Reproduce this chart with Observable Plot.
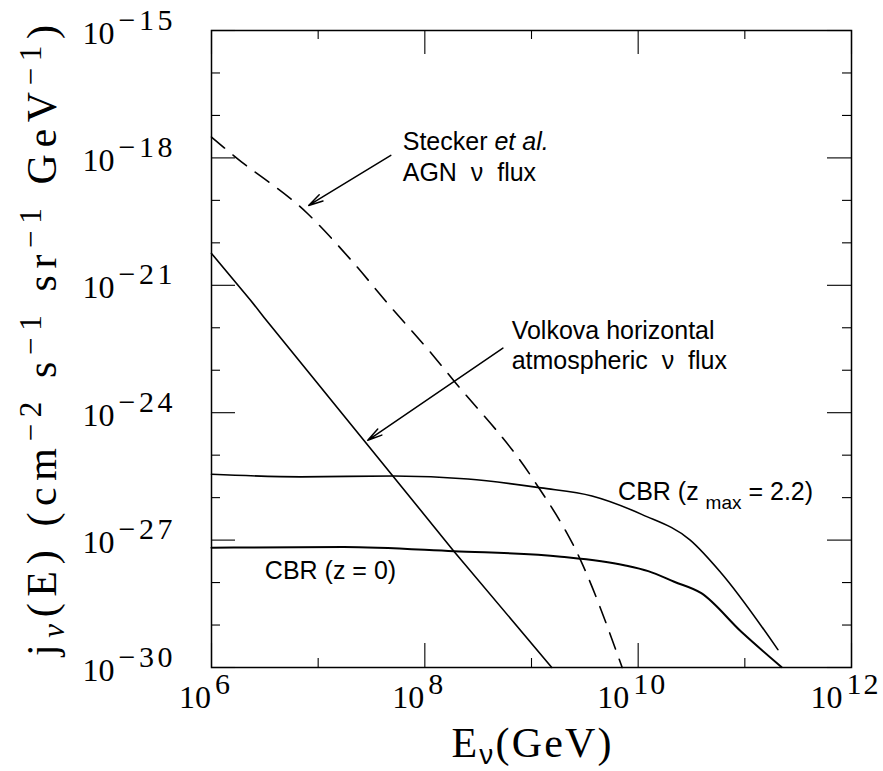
<!DOCTYPE html>
<html>
<head>
<meta charset="utf-8">
<script src="https://cdn.jsdelivr.net/npm/d3@7"></script>
<script src="https://cdn.jsdelivr.net/npm/@observablehq/plot@0.6"></script>
<style>
  body { margin: 0; background: #fff; }
</style>
</head>
<body>
<div id="chart"></div>
<script>
// ---- axis ticks ----
const xMajorTicks = [1e6, 1e8, 1e10, 1e12];
const xMinorTicks = [1e7, 1e9, 1e11];
const xTickLabels = ["10^6", "10^8", "10^10", "10^12"];
const yMajorTicks = [1e-30, 1e-27, 1e-24, 1e-21, 1e-18, 1e-15];
const yMinorTicks = [1e-29, 1e-28, 1e-26, 1e-25, 1e-23, 1e-22, 1e-20, 1e-19, 1e-17, 1e-16];
const yTickLabels = ["10^\u221230", "10^\u221227", "10^\u221224", "10^\u221221", "10^\u221218", "10^\u221215"];

// ---- series (log10 E [GeV], log10 j) ----
const steckerLogE = [6.0, 6.225, 6.90, 7.31, 7.68, 8.06, 8.27, 9.0, 9.46, 9.85];
const steckerLogJ = [-17.51, -17.98, -19.31, -20.41, -21.51, -22.60, -23.24, -25.51, -27.47, -30.0];

const volkovaLogE = [6.0, 6.366, 6.491, 7.70, 8.272, 9.19];
const volkovaLogJ = [-20.25, -21.35, -21.75, -25.49, -27.26, -30.0];

const cbrZmaxLogE = [6.0, 6.836, 7.709, 8.404, 9.089, 9.567, 10.038, 10.488, 10.77, 11.31];
const cbrZmaxLogJ = [-25.45, -25.51, -25.49, -25.56, -25.77, -25.96, -26.40, -27.00, -27.75, -29.58];

const cbrZ0LogE = [6.0, 7.239, 8.272, 9.277, 9.869, 10.094, 10.338, 10.592, 10.967, 11.343];
const cbrZ0LogJ = [-27.18, -27.16, -27.26, -27.39, -27.59, -27.73, -27.98, -28.25, -29.16, -29.99];

// ---- annotations ----
const annotationText = [
  "Stecker et al.",
  "AGN\u00a0\u00a0\u03bd\u00a0\u00a0flux",
  "Volkova horizontal",
  "atmospheric\u00a0\u00a0\u03bd\u00a0\u00a0flux",
  "CBR (z = 0)",
  "CBR (z max = 2.2)"
];
const annotationLogE = [7.793, 7.793, 8.814, 8.814, 6.50, 9.812];
const annotationLogJ = [-17.824, -18.553, -22.27, -22.976, -27.925, -26.045];

const arrowFromLogE = [7.681, 8.732];
const arrowFromLogJ = [-17.94, -22.48];
const arrowToLogE = [6.911, 7.465];
const arrowToLogJ = [-19.12, -24.65];

const xTitle = "XTITLE";
const yTitle = "YTITLE";

// ---- build tables ----
const toPts = (le, lj) => le.map((e, i) => ({E: 10 ** e, j: 10 ** lj[i]}));
const stecker = toPts(steckerLogE, steckerLogJ);
const volkova = toPts(volkovaLogE, volkovaLogJ);
const cbrZmax = toPts(cbrZmaxLogE, cbrZmaxLogJ);
const cbrZ0 = toPts(cbrZ0LogE, cbrZ0LogJ);
const annotations = annotationText.map((t, i) => ({t, E: 10 ** annotationLogE[i], j: 10 ** annotationLogJ[i]}));
const arrows = arrowFromLogE.map((e, i) => ({
  x1: 10 ** e, y1: 10 ** arrowFromLogJ[i], x2: 10 ** arrowToLogE[i], y2: 10 ** arrowToLogJ[i]
}));

const serif = "'Liberation Serif', 'Times New Roman', serif";
const sans = "'Liberation Sans', Arial, sans-serif";
const FH = 637, FW = 640;

const chart = Plot.plot({
  width: 883,
  height: 771,
  marginLeft: 211,
  marginRight: 32,
  marginTop: 30,
  marginBottom: 104,
  style: {background: "#fff", color: "#000"},
  x: {type: "log", domain: [1e6, 1e12], axis: null},
  y: {type: "log", domain: [1e-30, 1e-15], axis: null},
  marks: [
    // ticks (inward)
    Plot.tickX(xMinorTicks, {x: d => d, insetTop: FH - 9, stroke: "#000", strokeWidth: 1.1}),
    Plot.tickX(xMinorTicks, {x: d => d, insetBottom: FH - 9, stroke: "#000", strokeWidth: 1.1}),
    Plot.tickX(xMajorTicks, {x: d => d, insetTop: FH - 24, stroke: "#000", strokeWidth: 1.1}),
    Plot.tickX(xMajorTicks, {x: d => d, insetBottom: FH - 24, stroke: "#000", strokeWidth: 1.1}),
    Plot.tickY(yMinorTicks, {y: d => d, insetRight: FW - 9, stroke: "#000", strokeWidth: 1.1}),
    Plot.tickY(yMinorTicks, {y: d => d, insetLeft: FW - 9, stroke: "#000", strokeWidth: 1.1}),
    Plot.tickY(yMajorTicks, {y: d => d, insetRight: FW - 24, stroke: "#000", strokeWidth: 1.1}),
    Plot.tickY(yMajorTicks, {y: d => d, insetLeft: FW - 24, stroke: "#000", strokeWidth: 1.1}),
    Plot.frame({stroke: "#000", strokeWidth: 1.5}),
    // tick labels
    Plot.text(xMajorTicks, {
      x: d => d, text: (d, i) => xTickLabels[i], frameAnchor: "bottom",
      dy: 40, dx: -6, lineAnchor: "bottom", textAnchor: "middle",
      fontSize: 32, fontFamily: serif, fill: "#000"
    }),
    Plot.text(yMajorTicks, {
      y: d => d, text: (d, i) => yTickLabels[i], frameAnchor: "left",
      dx: -129, dy: 13, lineAnchor: "bottom", textAnchor: "start",
      fontSize: 32, fontFamily: serif, fill: "#000"
    }),
    // axis titles
    Plot.text([xTitle], {
      text: d => d, frameAnchor: "bottom", dy: 89, lineAnchor: "bottom",
      textAnchor: "middle", fontSize: 42, fontFamily: serif, fill: "#000"
    }),
    Plot.text([yTitle], {
      text: d => d, frameAnchor: "left", dx: -156, dy: -8.5, rotate: -90,
      lineAnchor: "bottom", textAnchor: "middle", fontSize: 42, fontFamily: serif, fill: "#000"
    }),
    // curves
    Plot.line(volkova, {x: "E", y: "j", stroke: "#000", strokeWidth: 1.6}),
    Plot.line(stecker, {x: "E", y: "j", stroke: "#000", strokeWidth: 1.6, strokeDasharray: "17,11", curve: "monotone-x"}),
    Plot.line(cbrZmax, {x: "E", y: "j", stroke: "#000", strokeWidth: 1.6, curve: "monotone-x"}),
    Plot.line(cbrZ0, {x: "E", y: "j", stroke: "#000", strokeWidth: 2, curve: "monotone-x"}),
    // arrows
    Plot.arrow(arrows, {x1: "x1", y1: "y1", x2: "x2", y2: "y2", stroke: "#000", strokeWidth: 1.5, headLength: 15, headAngle: 28}),
    // annotations
    Plot.text(annotations, {
      x: "E", y: "j", text: "t", textAnchor: "start", lineAnchor: "bottom",
      fontSize: 25, fontFamily: sans, fill: "#000"
    })
  ]
});

document.getElementById("chart").appendChild(chart);

// rich-text formatting (super/subscripts, italics)
const nb = "\u00a0";
const sup = (s) => '<tspan dy="-15" style="font-size:31px">' + s + '</tspan>';
const rich = {
  "Stecker et al.": 'Stecker <tspan style="font-style:italic">et al.</tspan>',
  "CBR (z max = 2.2)": 'CBR (z <tspan dy="9" style="font-size:19px">max</tspan><tspan dy="-9"> = 2.2)</tspan>',
  "XTITLE": 'E<tspan dy="7" style="font-size:28px;font-family:\'Liberation Sans\'">\u03bd</tspan><tspan dy="-7">(GeV)</tspan>',
  "YTITLE": 'j<tspan dy="8" style="font-size:31px;font-style:italic">\u03bd</tspan><tspan dy="-8">(E)' + nb + '(cm</tspan>' +
            sup('\u22122') + '<tspan dy="15">' + nb + 's</tspan>' +
            sup('\u22121') + '<tspan dy="15">' + nb + 'sr</tspan>' +
            sup('\u22121') + '<tspan dy="15">' + nb + 'GeV</tspan>' +
            sup('\u22121') + '<tspan dy="15">)</tspan>'
};
const xLabelSet = new Set(xTickLabels);
chart.querySelectorAll("text").forEach(el => {
  const t = el.textContent;
  if (rich[t] !== undefined) {
    el.innerHTML = rich[t];
    if (t === "YTITLE") { el.setAttribute("textLength", "631"); el.setAttribute("lengthAdjust", "spacing"); }
    if (t === "XTITLE") { el.setAttribute("textLength", "160"); el.setAttribute("lengthAdjust", "spacing"); }
  } else if (/^10\^/.test(t)) {
    const exp = t.slice(3);
    const ls = xLabelSet.has(t) ? 2 : 3.5;
    el.innerHTML = '10<tspan dx="4" dy="-14" style="font-size:30px;letter-spacing:' + ls + 'px">' + exp + '</tspan>';
  }
});
</script>
</body>
</html>
